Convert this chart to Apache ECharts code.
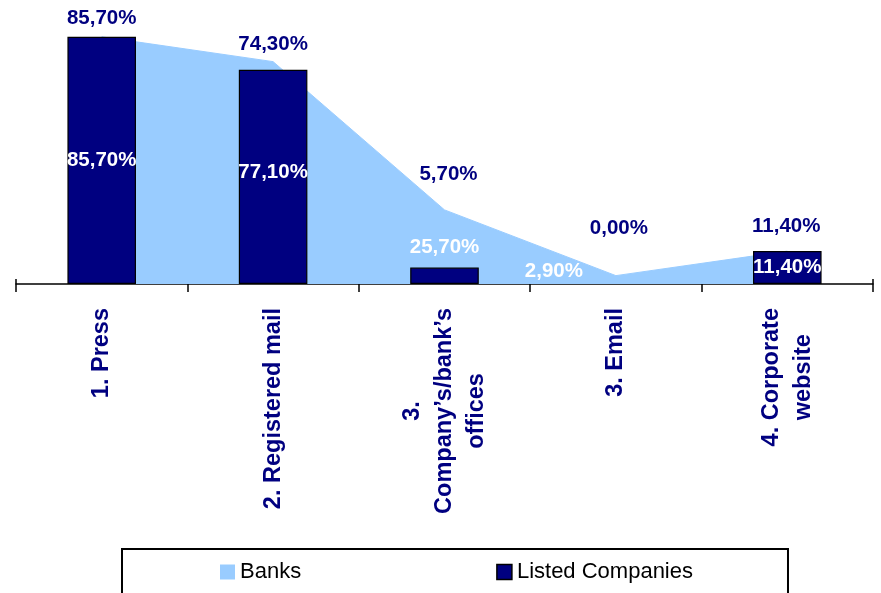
<!DOCTYPE html>
<html>
<head>
<meta charset="utf-8">
<script src="https://cdn.jsdelivr.net/npm/echarts@6/dist/echarts.min.js"></script>
<style>
  html, body { margin: 0; padding: 0; background: #ffffff; }
  #chart { width: 881px; height: 593px; }
</style>
</head>
<body>
<div id="chart"></div>
<script>
// Information channels: share of banks vs listed companies (%)
const categories = [
  '1. Press',
  '2. Registered mail',
  '3.\nCompany’s/bank’s\noffices',
  '3. Email',
  '4. Corporate\nwebsite'
];
const banks = [85.7, 77.1, 25.7, 2.9, 11.4];
const listedCompanies = [85.7, 74.3, 5.7, 0, 11.4];

// Label nudges (pixels) so the value labels sit clear of the area outline
const listedLabelShift = [[0, -3], [0, -10], [4, -78], [3, -40], [-1, -9]];
const banksLabelShift = [[0, 0], [0, 0], [0, 0], [-62, -8], [0, 0]];

const FONT = "'Liberation Sans', Arial, sans-serif";
const LIGHT = '#99CCFF';
const NAVY = '#000080';

const pct = v => v.toFixed(2).replace('.', ',') + '%';

const chart = echarts.init(document.getElementById('chart'), null, { renderer: 'canvas' });

chart.setOption({
  animation: false,
  backgroundColor: '#ffffff',
  grid: { left: 16, right: 8, top: 10, bottom: 309, containLabel: false },
  legend: {
    left: 122,
    top: 549,
    padding: [12, 95, 40, 98],
    borderColor: '#000000',
    borderWidth: 2,
    itemWidth: 15,
    itemHeight: 15,
    itemGap: 195,
    textStyle: { fontFamily: FONT, fontSize: 22, color: '#000000' },
    data: [
      { name: 'Banks', icon: 'rect', itemStyle: { color: LIGHT, borderWidth: 0 } },
      { name: 'Listed Companies', icon: 'rect', itemStyle: { color: NAVY, borderColor: '#000000', borderWidth: 1.5 } }
    ]
  },
  xAxis: [
    {
      type: 'category',
      data: categories,
      boundaryGap: true,
      axisLine: { show: true, onZero: false, lineStyle: { color: '#000000', width: 1.5 } },
      axisTick: { show: true, length: 8, lineStyle: { color: '#000000', width: 1.5 } },
      axisLabel: {
        interval: 0,
        rotate: 90,
        margin: 24,
        formatter: v => v.split('\n').map(l => '{c|' + l + '}').join('\n'),
        rich: {
          c: {
            align: 'center',
            fontFamily: FONT,
            fontSize: 23.5,
            fontWeight: 'bold',
            color: NAVY,
            lineHeight: 32
          }
        }
      }
    },
    {
      // upper half of the tick marks crossing the axis line
      type: 'category',
      data: categories,
      position: 'bottom',
      boundaryGap: true,
      axisLine: { show: false, onZero: false },
      axisTick: { show: true, inside: true, length: 5, lineStyle: { color: '#000000', width: 1.5 } },
      axisLabel: { show: false },
      splitLine: { show: false }
    }
  ],
  yAxis: {
    type: 'value',
    min: 0,
    max: 95,
    show: false,
    splitLine: { show: false }
  },
  series: [
    {
      name: 'Banks',
      type: 'line',
      data: banks,
      z: 1,
      symbol: 'none',
      smooth: false,
      itemStyle: { color: LIGHT },
      lineStyle: { color: LIGHT, width: 1 },
      areaStyle: { color: LIGHT, opacity: 1 }
    },
    {
      name: 'Listed Companies',
      type: 'bar',
      z: 2,
      barWidth: '40%',
      barGap: '-100%',
      data: listedCompanies.map((v, i) => ({
        value: v,
        // an empty bar draws no outline
        itemStyle: v === 0 ? { borderWidth: 0 } : undefined,
        label: { offset: listedLabelShift[i] }
      })),
      itemStyle: { color: NAVY, borderColor: '#000000', borderWidth: 1.2 },
      label: {
        show: true,
        position: 'top',
        distance: 5,
        formatter: p => pct(p.value),
        fontFamily: FONT,
        fontSize: 20.5,
        fontWeight: 'bold',
        color: NAVY
      }
    },
    {
      // carrier for the banks' value labels, centred halfway up each value
      name: 'Banks values',
      type: 'bar',
      z: 3,
      barWidth: '40%',
      barGap: '-100%',
      silent: true,
      data: banks.map((v, i) => ({
        value: v,
        label: { offset: banksLabelShift[i] }
      })),
      itemStyle: { color: 'rgba(0,0,0,0)', borderWidth: 0 },
      label: {
        show: true,
        position: 'inside',
        formatter: p => pct(p.value),
        fontFamily: FONT,
        fontSize: 20.5,
        fontWeight: 'bold',
        color: '#ffffff'
      }
    }
  ]
});
</script>
</body>
</html>
